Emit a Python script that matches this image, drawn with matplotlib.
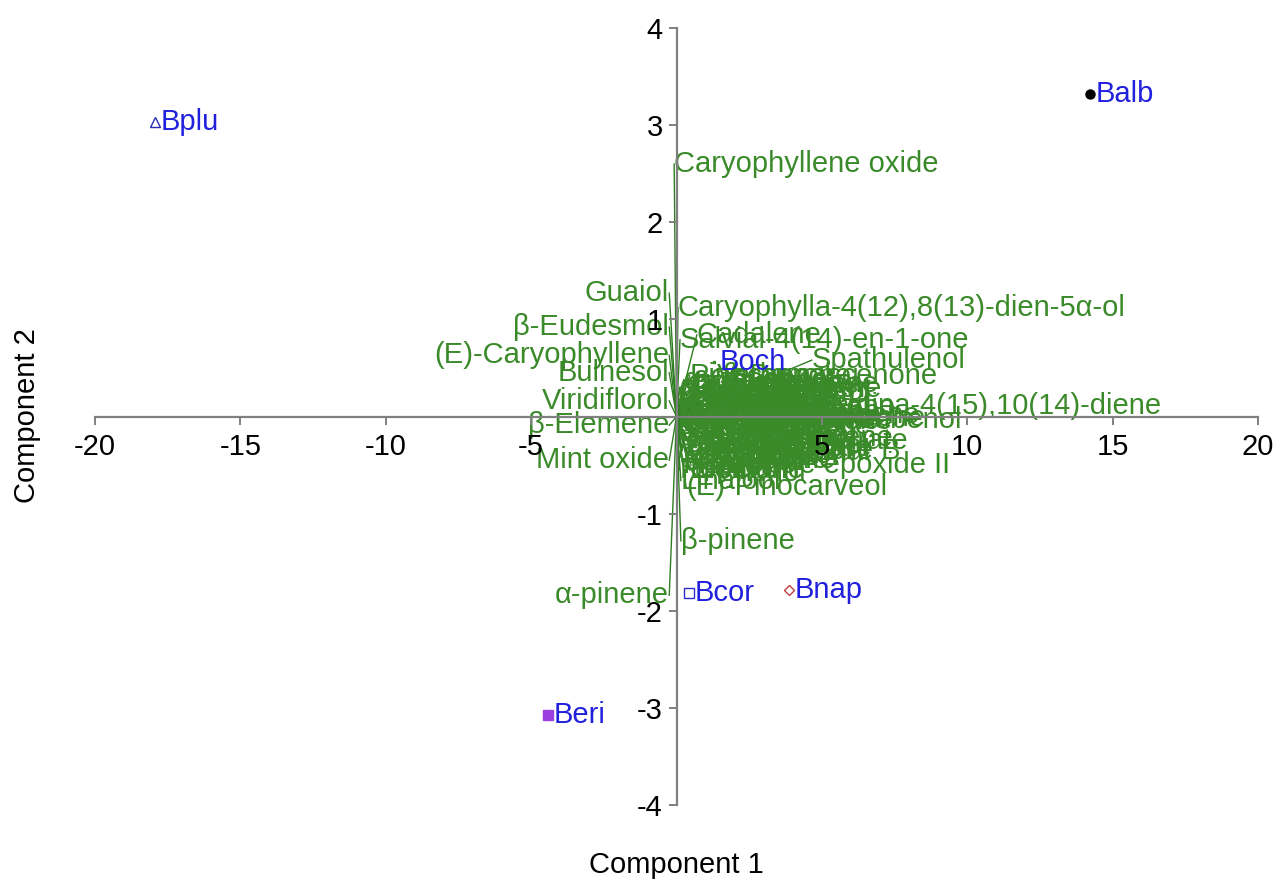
import matplotlib
matplotlib.use("Agg")
import matplotlib.pyplot as plt

plt.rcParams['font.family'] = ['Liberation Sans', 'DejaVu Sans']
plt.rcParams['axes.unicode_minus'] = False

# sample scores (component 1, component 2)
samples = ['Bplu', 'Balb', 'Boch', 'Bcor', 'Bnap', 'Beri']
sample_x = [-17.93, 14.22, 1.29, 0.43, 3.87, -4.42]
sample_y = [3.03, 3.32, 0.56, -1.82, -1.79, -3.07]

# named loadings
var_names = ['Caryophyllene oxide', 'Guaiol', 'β-Eudesmol', '(E)-Caryophyllene', 'Bulnesol',
             'Viridiflorol', 'β-Elemene', 'Mint oxide', 'α-pinene',
             'Caryophylla-4(12),8(13)-dien-5α-ol', 'Salvial-4(14)-en-1-one', 'Cadalene',
             'Spathulenol', 'β-Damascenone', 'Germacrene D', 'Cadina-4(15),10(14)-diene',
             'Cubenol', 'Limonene', 'Myrtenal', 'Humulene epoxide II', 'Linalool',
             '(E)-Pinocarveol', 'β-pinene']
var_x = [-0.08, -0.25, -0.25, -0.25, -0.25,
         -0.25, -0.25, -0.25, -0.25,
         0.05, 0.12, 0.70,
         4.65, 1.60, 0.05, 4.87,
         6.10, 3.08, 2.84, 0.22, 0.15,
         0.33, 0.15]
var_y = [2.60, 1.27, 0.92, 0.63, 0.45,
         0.16, -0.09, -0.45, -1.84,
         1.12, 0.79, 0.84,
         0.58, 0.42, 0.22, 0.11,
         -0.04, -0.22, -0.37, -0.50, -0.66,
         -0.73, -1.28]

# the crowded loadings near the origin (the green blob)
blob_names = ['α-Thujene', 'Tricyclene', 'Camphene', 'Sabinene', 'Myrcene', 'α-Phellandrene',
              'α-Terpinene', 'p-Cymene', '1,8-Cineole', 'γ-Terpinene', 'Terpinolene',
              'Sabinene hydrate', 'Camphor', 'Borneol', 'Terpinen-4-ol', 'α-Terpineol',
              'Myrtenol', 'Verbenone', 'Bornyl acetate', 'α-Copaene', 'β-Bourbonene',
              'α-Gurjunene', 'Aromadendrene', 'Ledene', 'Bicyclogermacrene', 'δ-Cadinene',
              'γ-Cadinene', 'α-Muurolene', 'Elemol', 'Ledol', 'Globulol', 'γ-Eudesmol',
              'α-Eudesmol', 'T-Cadinol', 'α-Cadinol', 'Germacrene B', 'α-Humulene',
              'Carvone', 'Piperitone', 'Thymol', 'Carvacrol', 'β-Bisabolene',
              'Pinocarvone', 'Verbenol', 'Nopinone', 'Fenchol', 'Cuminal', 'Eugenol',
              'α-Fenchene', 'δ-3-Carene', 'Ocimene', 'Fenchone', 'Isoborneol', 'Citronellal',
              'Neral', 'Geranial', 'Geraniol', 'Nerol', 'Citronellol', 'Thujone', 'Sabinol',
              'Carveol', 'α-Cubebene', 'β-Cubebene', 'α-Ylangene', 'γ-Muurolene',
              'Calamenene', 'Cubebol', 'Nerolidol', 'Hinesol', 'Valencene', 'Elemicin',
              'Farnesol']
blob_x = [0.10, 0.30, 0.60, 0.90, 1.20, 0.20,
          0.50, 0.80, 0.15, 0.40, 0.70,
          0.10, 1.00, 1.40, 0.20, 0.60,
          1.10, 0.40, 0.30, 0.25, 0.55,
          1.50, 0.35, 0.70, 0.05, 1.90,
          1.60, 1.80, 2.20, 2.40, 1.70, 1.00,
          1.30, 1.90, 1.50, 1.20, 0.05,
          1.70, 1.80, 2.60, 2.30, 2.50,
          0.45, 1.40, 0.10, 0.90, 0.30, 1.20,
          0.05, 0.15, 0.40, 0.05, 0.10, 0.25,
          0.60, 0.05, 0.35, 0.85, 0.05, 0.50, 0.20,
          0.75, 0.15, 0.65, 0.80, 1.00,
          1.30, 1.40, 0.90, 2.00, 1.10, 0.45,
          1.60]
blob_y = [0.30, 0.25, 0.20, 0.15, 0.10, 0.05,
          0.00, -0.05, -0.10, -0.15, -0.20,
          -0.25, -0.25, -0.30, -0.35, -0.40,
          -0.40, -0.45, -0.32, 0.38, 0.33,
          0.28, 0.10, 0.05, -0.02, 0.00,
          -0.10, -0.05, 0.10, 0.05, 0.20, 0.36,
          0.25, -0.20, -0.30, -0.35, 0.15,
          -0.45, 0.32, -0.10, -0.30, 0.02,
          0.42, 0.42, -0.55, -0.58, 0.30, -0.15,
          0.25, 0.20, 0.18, 0.05, -0.02, -0.08,
          -0.12, -0.18, -0.22, -0.30, -0.40, -0.50, -0.47,
          -0.47, 0.12, 0.28, 0.12, 0.02,
          -0.05, 0.15, -0.10, -0.38, 0.25, -0.55,
          0.08]

sample_marker = ['^', 'o', 's', 's', 'D', 's']
sample_face = ['none', 'black', '#3a8a2a', 'none', 'none', '#9b3fe0']
sample_edge = ['#2b2bb0', 'black', '#3a8a2a', '#2b2bd0', '#c04040', '#9b3fe0']
sample_size = [6.5, 6.5, 2, 6.5, 5, 6.5]

green = '#3a8a2a'
line_green = '#2f7d22'
blue = '#2020dd'

fig = plt.figure(figsize=(12.75, 8.83), dpi=100)
ax = fig.add_axes([0.0745, 0.0883, 0.9122, 0.88])

# loading vectors from the origin
all_x = var_x + blob_x
all_y = var_y + blob_y
for x, y in zip(all_x, all_y):
    ax.plot([0, x], [0, y], color=line_green, lw=1, zorder=2)

for name, x, y in zip(blob_names + var_names, blob_x + var_x, blob_y + var_y):
    ha = 'right' if x < -0.1 else 'left'
    ax.text(x, y, name, color=green, fontsize=21, ha=ha, va='center', zorder=3)

# sample scores
for i in range(len(samples)):
    ax.plot(sample_x[i], sample_y[i], marker=sample_marker[i], ms=sample_size[i],
            mfc=sample_face[i], mec=sample_edge[i], mew=1, ls='none', zorder=2.5)
    ax.annotate(samples[i], (sample_x[i], sample_y[i]), xytext=(4, 0), textcoords='offset points',
                color=blue, fontsize=21, ha='left', va='center', zorder=5)

ax.set_xlim(-20, 20)
ax.set_ylim(-4, 4)
ax.spines['left'].set_position(('data', 0))
ax.spines['bottom'].set_position(('data', 0))
ax.spines['top'].set_visible(False)
ax.spines['right'].set_visible(False)
for s in ['left', 'bottom']:
    ax.spines[s].set_color('#808080')
    ax.spines[s].set_linewidth(1.6)
    ax.spines[s].set_zorder(10)
ax.xaxis.set_zorder(10)
ax.yaxis.set_zorder(10)

ax.set_xticks([-20, -15, -10, -5, 5, 10, 15, 20])
ax.set_yticks([-4, -3, -2, -1, 1, 2, 3, 4])
ax.tick_params(axis='both', colors='#808080', labelcolor='black', labelsize=21,
               length=6, width=1.4, direction='out')
ax.tick_params(axis='x', pad=6)
ax.tick_params(axis='y', pad=4)

fig.text(676 / 1275, 1 - 865 / 883, 'Component 1', fontsize=21, ha='center', va='center')
fig.text(27 / 1275, 1 - 416 / 883, 'Component 2', fontsize=21, ha='center', va='center',
         rotation=90)

fig.savefig('out.png', dpi=100)
